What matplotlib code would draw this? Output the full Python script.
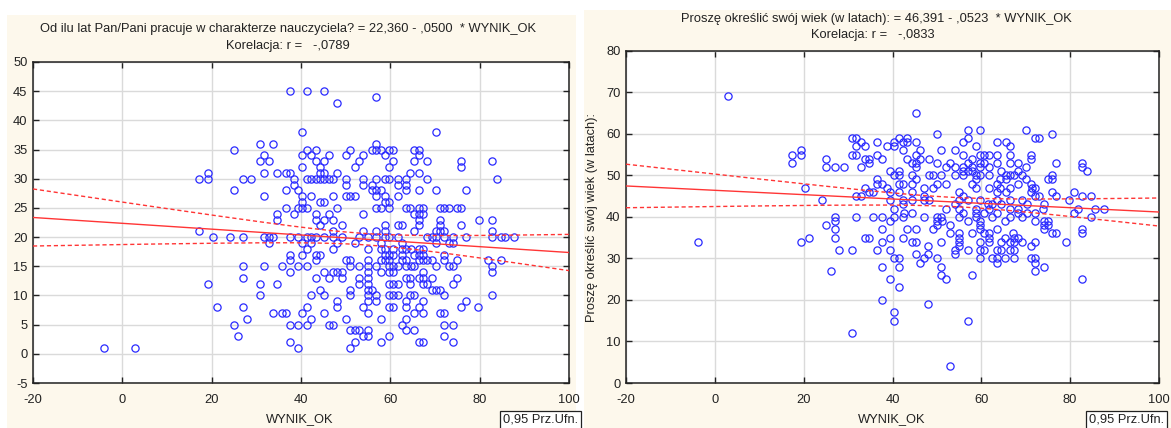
import numpy as np
import matplotlib
matplotlib.use("Agg")
import matplotlib.pyplot as plt
from matplotlib.patches import Rectangle

plt.rcParams['font.family'] = ['Liberation Sans', 'DejaVu Sans']
plt.rcParams['axes.unicode_minus'] = False

# ---- Panel 1: years of teaching vs. WYNIK_OK -------------------------------
staz_rows = {
    45: [37.6, 41.4, 45.1],
    44: [56.8],
    43: [48.1],
    38: [40.3, 70.2],
    36: [30.8, 33.7, 56.8],
    35: [25, 41.4, 43.3, 51, 55.8, 56.8, 57.8, 59.7, 60.7, 65.3, 66.4],
    34: [31.8, 40.3, 42.3, 46.2, 50, 53.9, 58.8, 66.4],
    33: [30.8, 32.8, 43.3, 45.2, 52.9, 60.7, 65.3, 68.3, 75.9, 82.7],
    32: [40.3, 44.2, 52, 59.7, 75.9],
    31: [19.1, 31.8, 34.6, 36.6, 37.6, 44.2, 45.2, 48.1, 64.4, 66.4],
    30: [17.2, 19.1, 27, 28.9, 38.5, 41.4, 42.3, 43.3, 44.2, 45.2, 46.2, 47.1,
         50, 53.9, 56.8, 58.8, 59.7, 61.7, 63.5, 68.3, 83.8],
    29: [38.5, 50, 53.9, 55.8, 61.7, 63.5],
    28: [25, 36.6, 39.3, 55.8, 56.8, 57.8, 63.5, 66.4, 70.2, 77],
    27: [31.8, 40.3, 42.3, 47.1, 50, 51, 52, 56.8, 58.8, 61.7],
    26: [40.3, 44.2, 45.2, 58.8, 59.7],
    25: [36.6, 39.3, 40.3, 41.4, 48.1, 56.8, 57.8, 59.7, 63.5, 64.4, 66.4, 67.3,
         71.1, 72, 73.1, 74.9, 75.9],
    24: [34.6, 38.5, 43.3, 46.2, 53.9, 65.3, 66.4, 67.3],
    23: [34.6, 43.3, 45.2, 47.1, 66.4, 71.1, 79.8, 82.7],
    22: [44.2, 49.1, 58.8, 61.7, 62.7, 66.4, 71.1, 75.9],
    21: [17.2, 47.1, 53.9, 56.8, 58.8, 65.3, 70.2, 71.1, 72, 82.7],
    20: [20.2, 24, 27, 31.8, 32.8, 33.7, 37.6, 39.3, 41.4, 42.3, 43.3, 45.2,
         47.1, 49.1, 52.9, 54.9, 56.8, 58.8, 59.7, 61.7, 68.3, 69.3, 70.2, 72,
         74.1, 77, 82.7, 84.8, 85.7, 87.6],
    19: [32.8, 40.3, 42.3, 48.1, 52, 57.8, 62.7, 70.2, 73.1, 74.1],
    18: [41.4, 47.1, 54.9, 57.8, 58.8, 60.7, 62.7, 63.6, 64.6, 66.4, 67.3],
    17: [37.6, 40.3, 43.3, 44.2, 58.8, 59.7, 60.7, 62.7, 65.3, 66.4, 67.3, 72],
    16: [37.6, 43.3, 50, 51, 54.9, 57.8, 58.8, 59.7, 62.7, 63.6, 66.4, 67.3,
         68.3, 69.3, 72, 74.9, 81.8, 84.8],
    15: [27, 31.8, 35.7, 39.3, 41.4, 51, 52.9, 54.9, 56.8, 59.7, 60.7, 61.7,
         63.6, 64.6, 65.3, 70.2, 73.1, 74.1, 82.7],
    14: [37.6, 45.2, 47.1, 48.1, 49.1, 54.9, 57.8, 59.7, 60.7, 67.3, 82.7],
    13: [27, 43.3, 46.2, 49.1, 52.9, 54.9, 63.6, 64.4, 66.4, 67.3, 69.3, 74.9],
    12: [19.1, 30.8, 34.6, 52.9, 54.9, 59.7, 60.7, 61.7, 64.4, 67.3, 68.3, 74.1],
    11: [44.2, 51, 54.9, 55.8, 69.3, 70.2, 71.1],
    10: [30.8, 42.3, 45.2, 51, 54.9, 56.8, 59.7, 60.7, 61.7, 64.4, 65.3, 72, 82.7],
    9: [48.1, 54.9, 56.8, 63.6, 67.3, 77],
    8: [21.1, 27, 41.4, 48.1, 53.9, 59.7, 60.7, 63.6, 66.4, 75.9, 79.7],
    7: [33.7, 35.7, 36.6, 40.3, 45.2, 54.9, 65.3, 67.3, 71.1, 72],
    6: [27.9, 42.3, 50, 57.8, 63.6],
    5: [25, 37.6, 39.3, 41.4, 46.2, 47.1, 62.7, 72, 74.1],
    4: [51, 52, 52.9, 54.9, 63.6, 65.3],
    3: [26, 53.9, 54.9, 59.7, 72],
    2: [37.6, 52, 57.8, 66.4, 67.3, 74.1],
    1: [-4, 2.9, 39.3, 51],
}

# ---- Panel 2: age vs. WYNIK_OK ---------------------------------------------
wiek_rows = {
    69: [3.0],
    65: [45.2],
    61: [56.9, 59.7, 70.1],
    60: [50.0, 76.0],
    59: [30.8, 31.8, 41.4, 43.3, 56.9, 72.1, 73.0],
    58: [32.8, 36.6, 40.4, 42.3, 43.3, 45.2, 55.9, 63.5, 65.5],
    57: [31.8, 33.8, 38.7, 40.4, 58.8, 66.4],
    56: [19.3, 42.3, 46.2, 51.0, 54.0],
    55: [17.3, 19.3, 30.8, 31.8, 36.6, 45.2, 55.9, 59.7, 60.7, 61.7, 63.5, 66.4, 71.2],
    54: [25.1, 33.8, 34.8, 37.6, 43.3, 46.2, 48.2, 57.8, 71.2],
    53: [17.3, 34.8, 44.3, 45.2, 50.0, 53.0, 56.9, 59.7, 60.7, 63.5, 66.4, 68.3,
         76.9, 82.7],
    52: [25.1, 27.1, 29.0, 32.8, 45.2, 52.0, 54.0, 55.9, 57.8, 59.7, 61.7, 70.1, 82.7],
    51: [39.5, 41.4, 55.9, 56.9, 57.8, 64.5, 68.2, 83.8],
    50: [40.4, 41.4, 44.3, 48.2, 49.1, 51.0, 54.0, 55.9, 58.8, 59.7, 61.7, 65.5,
         66.4, 67.4, 69.2, 76.0],
    49: [36.6, 45.2, 58.7, 64.3, 65.5, 70.1, 74.9, 76.0],
    48: [36.6, 37.6, 41.4, 42.3, 44.3, 50.0, 52.0, 57.8, 63.5, 68.3, 71.2],
    47: [20.3, 33.8, 38.7, 47.2, 49.1, 58.7, 61.7, 64.1, 66.4, 71.5, 72.1],
    46: [34.8, 35.7, 39.5, 41.4, 44.3, 54.9, 63.5, 65.5, 71.2, 76.0, 80.8],
    45: [31.8, 32.8, 47.2, 55.9, 72.1, 73.0, 76.9, 82.7, 84.7],
    44: [24.1, 39.5, 42.3, 44.3, 47.2, 48.2, 54.9, 56.9, 59.7, 63.5, 66.4, 69.2, 79.8],
    43: [42.3, 54.0, 61.6, 62.5, 64.5, 70.2, 74.1],
    42: [40.4, 52.0, 54.9, 58.8, 61.7, 66.4, 68.3, 73.9, 81.8, 85.7, 87.6],
    41: [42.5, 44.3, 55.9, 58.8, 60.7, 63.5, 68.3, 70.2, 72.1, 80.8],
    40: [27.1, 31.8, 35.7, 37.7, 40.4, 42.3, 47.2, 50.0, 51.0, 54.9, 58.8, 62.5,
         66.4, 69.2, 84.7],
    39: [27.1, 39.5, 50.0, 51.1, 56.9, 59.7, 65.4, 72.1, 74.0, 75.1],
    38: [25.1, 50.0, 53.0, 59.7, 74.1, 75.1],
    37: [27.1, 37.7, 43.3, 45.2, 49.1, 59.7, 63.5, 74.1, 82.7],
    36: [53.0, 54.9, 57.8, 60.7, 61.7, 67.2, 76.0, 76.9, 82.7],
    35: [21.2, 27.1, 33.8, 34.8, 39.5, 42.3, 54.9, 61.7, 65.4, 67.4, 68.3],
    34: [-3.8, 19.3, 37.7, 44.3, 45.2, 51.0, 54.9, 59.7, 61.7, 64.5, 66.4, 67.4,
         69.2, 72.1, 79.0],
    33: [48.1, 54.9, 71.2],
    32: [28.0, 30.9, 36.6, 39.5, 54.0, 56.9, 59.7, 60.7, 63.5, 64.5, 66.4, 67.4],
    31: [45.2, 48.1, 54.0],
    30: [40.4, 41.4, 47.2, 50.0, 59.7, 62.5, 63.5, 65.4, 67.4, 71.2, 72.1],
    29: [46.2, 63.5, 72.1],
    28: [37.7, 41.4, 51.0, 74.1],
    27: [26.1, 72.1],
    26: [51.0, 57.8],
    25: [39.5, 52.0, 82.7],
    23: [41.4],
    20: [37.7],
    19: [48.1],
    17: [40.4],
    15: [40.4, 56.9],
    12: [30.9],
    4: [53.0],
}


def flatten(rows):
    xs, ys = [], []
    for yv, xlist in rows.items():
        for xv in xlist:
            xs.append(xv)
            ys.append(yv)
    return np.array(xs, float), np.array(ys, float)


staz_x, staz_y = flatten(staz_rows)
wiek_x, wiek_y = flatten(wiek_rows)

# Regression coefficients as reported in the titles
staz_b0, staz_b1, staz_r = 22.360, -0.0500, "-,0789"
wiek_b0, wiek_b1, wiek_r = 46.391, -0.0523, "-,0833"

staz_title = "Od ilu lat Pan/Pani pracuje w charakterze nauczyciela? = 22,360 - ,0500  * WYNIK_OK"
wiek_title = "Proszę określić swój wiek (w latach): = 46,391 - ,0523  * WYNIK_OK"
wiek_ylabel = "Proszę określić swój wiek (w latach):"
x_label = "WYNIK_OK"

x_ticks = [-20, 0, 20, 40, 60, 80, 100]
staz_yticks = list(range(-5, 51, 5))
wiek_yticks = list(range(0, 81, 10))

W, H = 1171, 428
fig = plt.figure(figsize=(W / 100, H / 100), dpi=100)
fig.patch.set_facecolor("white")

CREAM = "#fdf8ec"
BLUE = "#2a2aff"
RED = "#ff3535"
TXT = "#222222"
FS = 9.3


def px_rect(x0, y0, x1, y1):
    return [x0 / W, 1 - y1 / H, (x1 - x0) / W, (y1 - y0) / H]


# panel backgrounds
for (x0, y0, x1, y1) in [(7, 15, 576, 428), (584, 10, 1171, 428)]:
    fig.patches.append(Rectangle((x0 / W, 1 - y1 / H), (x1 - x0) / W, (y1 - y0) / H,
                                 transform=fig.transFigure, facecolor=CREAM,
                                 edgecolor="none", zorder=-5))


def draw_panel(ax, xs, ys, b0, b1, yticks, ylim):
    ax.set_zorder(2)
    ax.set_facecolor("white")
    ax.set_xlim(-20, 100)
    ax.set_ylim(*ylim)
    ax.set_xticks(x_ticks)
    ax.set_yticks(yticks)
    ax.grid(True, color="#dadada", lw=1.0, zorder=0)
    ax.set_axisbelow(True)
    ax.tick_params(direction="in", length=4, width=1, colors="#222222",
                   labelcolor=TXT, labelsize=FS, top=True, right=True,
                   labeltop=False, labelright=False)
    ax.tick_params(axis="x", pad=8)
    ax.tick_params(axis="y", pad=4)
    for s in ax.spines.values():
        s.set_color("#222222")
        s.set_linewidth(1.1)

    ax.plot(xs, ys, linestyle="none", marker="o", markersize=5.2,
            markerfacecolor="none", markeredgecolor=BLUE, markeredgewidth=0.9,
            zorder=3)

    # fitted line and 95% confidence band for the mean
    xg = np.linspace(-20, 100, 300)
    yfit = b0 + b1 * xg
    n = len(xs)
    resid = ys - (b0 + b1 * xs)
    s = np.sqrt(np.sum(resid ** 2) / (n - 2))
    xm = xs.mean()
    sxx = np.sum((xs - xm) ** 2)
    half = 1.966 * s * np.sqrt(1.0 / n + (xg - xm) ** 2 / sxx)
    ax.plot(xg, yfit, color=RED, lw=1.0, zorder=4)
    ax.plot(xg, yfit + half, color=RED, lw=1.0, ls=(0, (3, 2)), zorder=4)
    ax.plot(xg, yfit - half, color=RED, lw=1.0, ls=(0, (3, 2)), zorder=4)


ax1 = fig.add_axes(px_rect(33, 62, 569, 383))
draw_panel(ax1, staz_x, staz_y, staz_b0, staz_b1, staz_yticks, (-5, 50))
ax2 = fig.add_axes(px_rect(626, 50.7, 1159, 383))
draw_panel(ax2, wiek_x, wiek_y, wiek_b0, wiek_b1, wiek_yticks, (0, 80))

# titles
fig.text(288 / W, 1 - 29 / H, staz_title, ha="center", va="center", fontsize=FS, color=TXT)
fig.text(288 / W, 1 - 46 / H, "Korelacja: r =   " + staz_r, ha="center", va="center",
         fontsize=FS, color=TXT)
fig.text(876 / W, 1 - 19 / H, wiek_title, ha="center", va="center", fontsize=FS, color=TXT)
fig.text(873 / W, 1 - 35 / H, "Korelacja: r =   " + wiek_r, ha="center", va="center",
         fontsize=FS, color=TXT)

# axis labels
fig.text(300 / W, 1 - 419 / H, x_label, ha="center", va="center", fontsize=FS, color=TXT)
fig.text(892 / W, 1 - 419 / H, x_label, ha="center", va="center", fontsize=FS, color=TXT)
fig.text(592 / W, 1 - 217 / H, wiek_ylabel, ha="center", va="center", rotation=90,
         fontsize=FS, color=TXT)

# confidence-level boxes
for (xb, yb) in [(503, 420), (1089, 420)]:
    fig.text(xb / W, 1 - yb / H, "0,95 Prz.Ufn.", ha="left", va="center", fontsize=FS,
             color=TXT, bbox=dict(boxstyle="square,pad=0.25", facecolor="white",
                                  edgecolor="#222222", lw=0.9))

fig.savefig("out.png", dpi=100, facecolor=fig.get_facecolor())
